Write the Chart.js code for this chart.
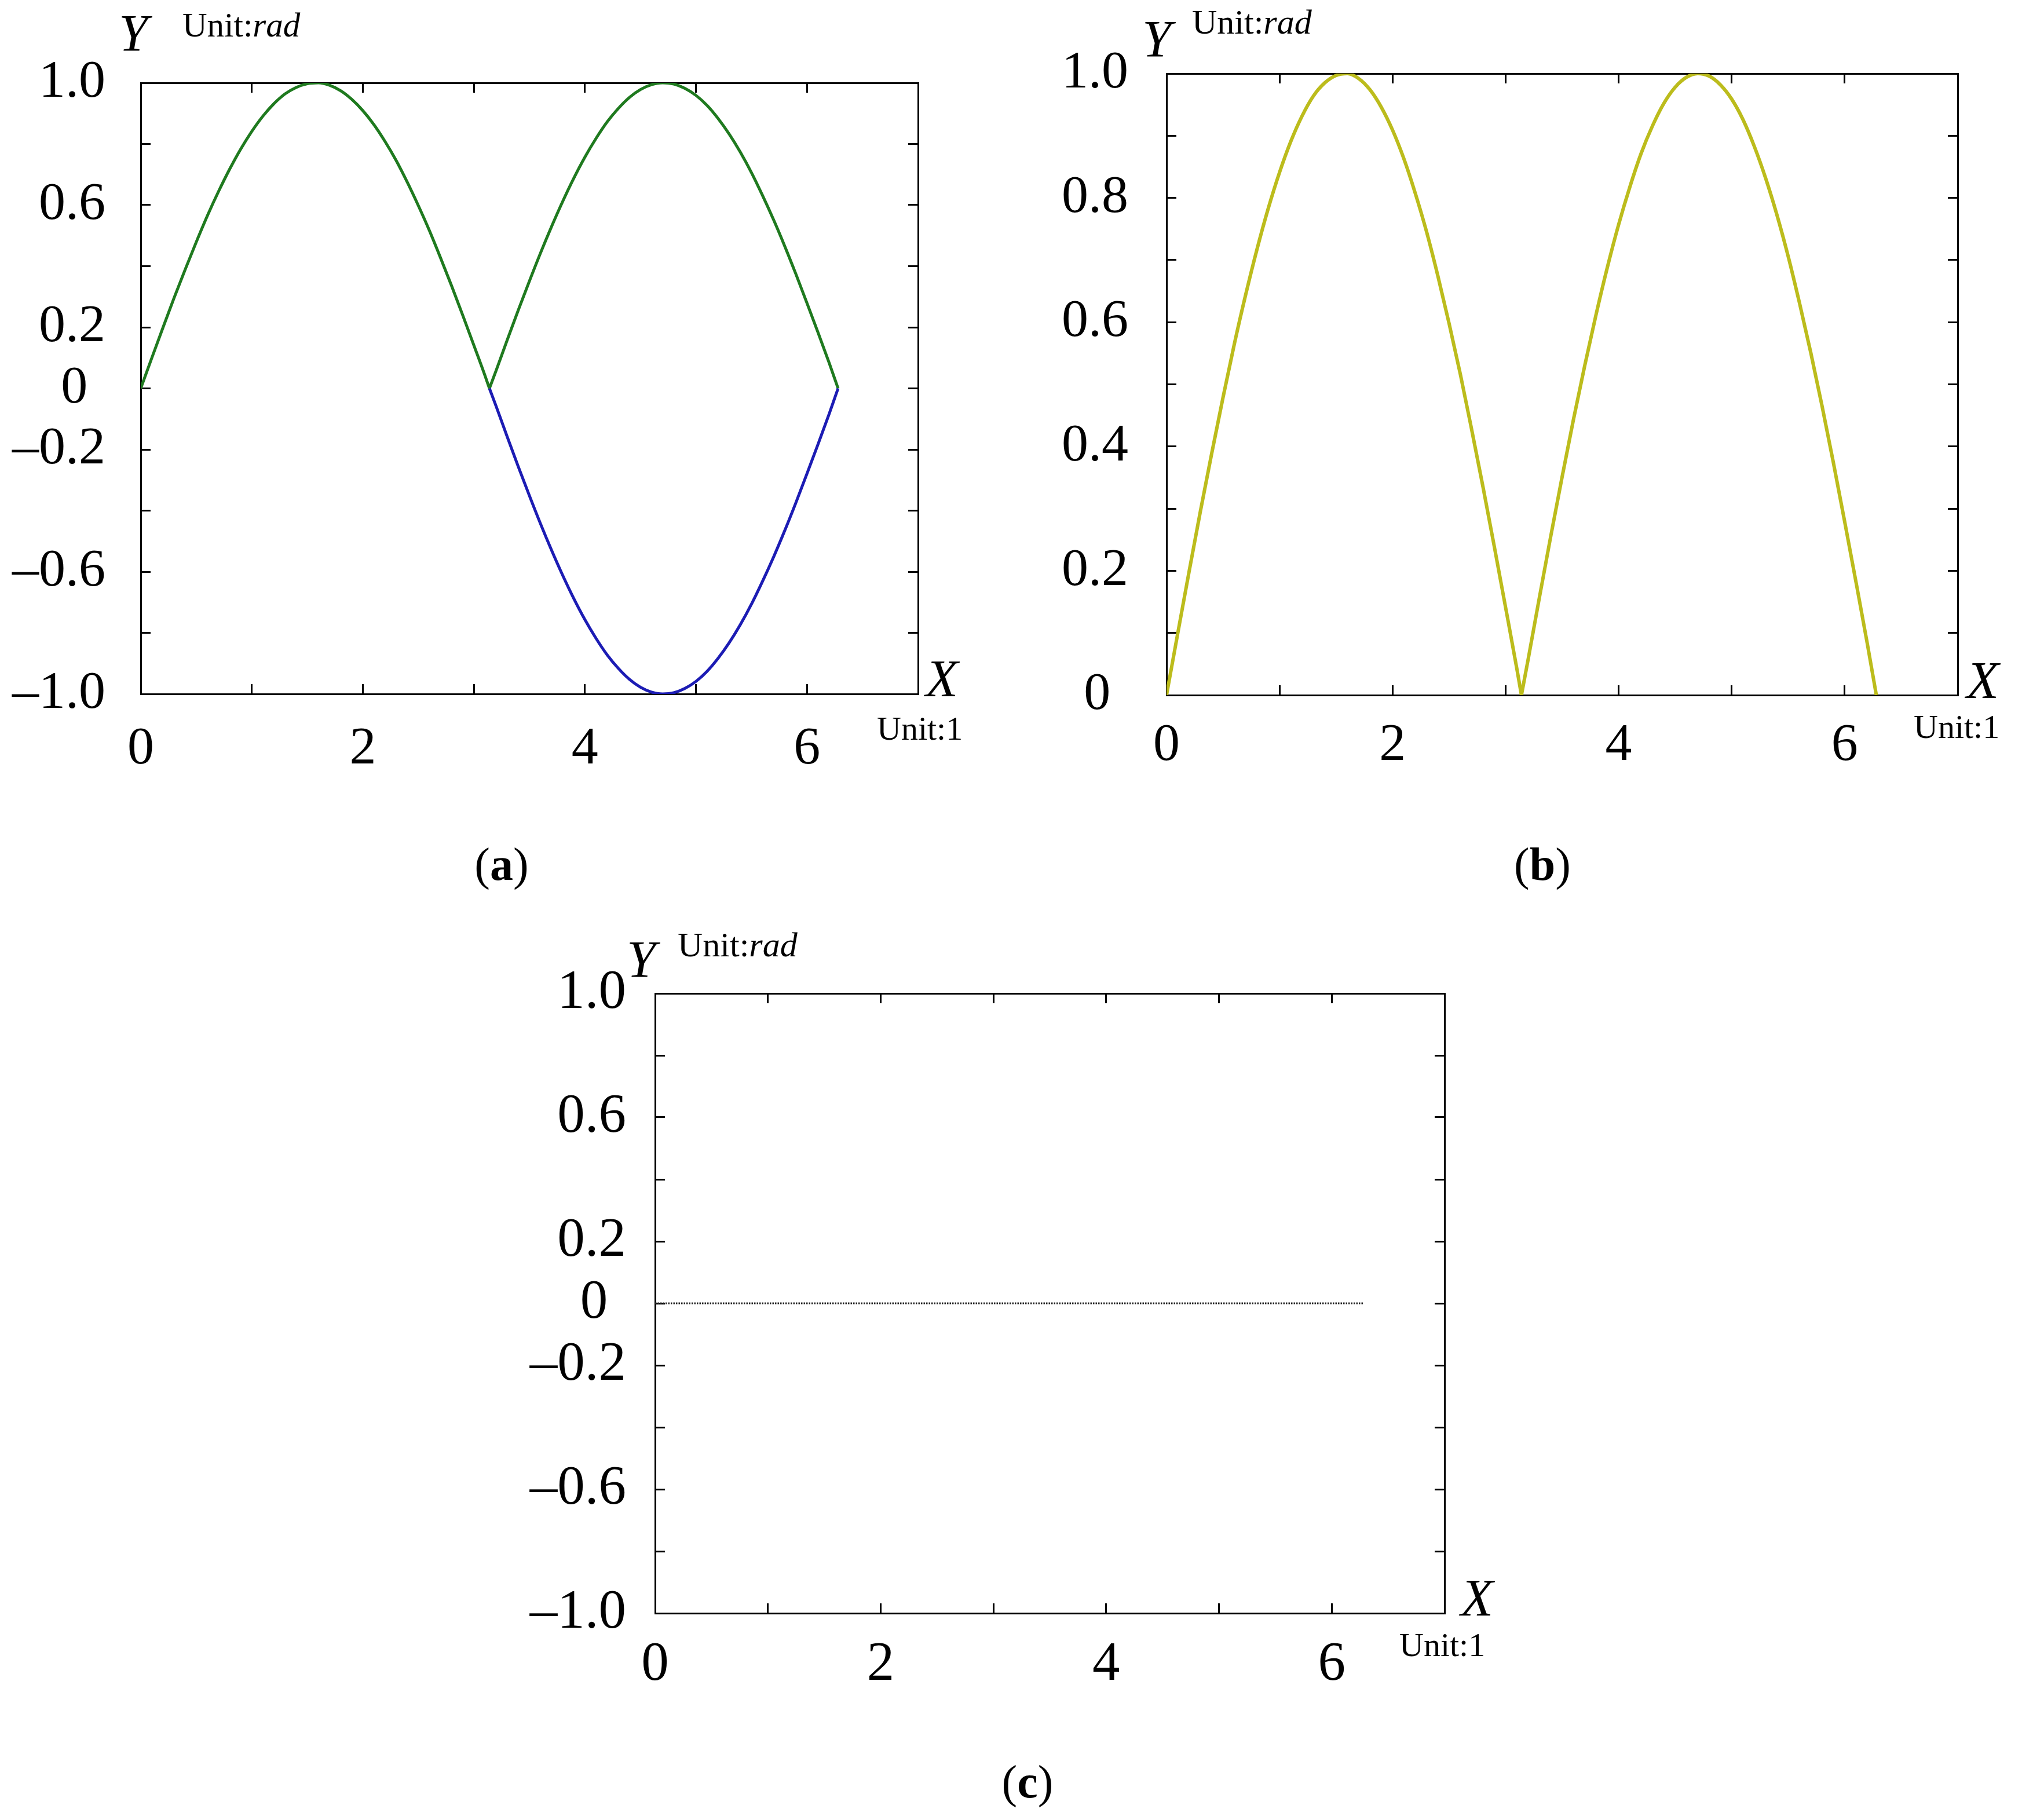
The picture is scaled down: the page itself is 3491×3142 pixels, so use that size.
<!DOCTYPE html>
<html>
<head>
<meta charset="utf-8">
<script src="https://cdn.jsdelivr.net/npm/chart.js@4.4.1/dist/chart.umd.min.js"></script>
<style>
  html, body { margin: 0; padding: 0; background: #ffffff; }
  body { width: 3491px; height: 3142px; position: relative; overflow: hidden;
         font-family: "Liberation Serif", "DejaVu Serif", serif; color: #000; }
  .box { position: absolute; }
  .t { position: absolute; line-height: 1; white-space: nowrap; }
  .i { font-style: italic; }
  .cap { position: absolute; line-height: 1; white-space: nowrap; transform: translateX(-50%); font-size: 80px; }
</style>
</head>
<body>
<div class="box" id="boxA" style="left:13px; top:-18px; width:1583px; height:1366px;"><canvas id="chartA"></canvas></div>
<div class="box" id="boxB" style="left:1784px; top:-34px; width:1607px; height:1384px;"><canvas id="chartB"></canvas></div>
<div class="box" id="boxC" style="left:901px; top:1554px; width:1604px; height:1381px;"><canvas id="chartC"></canvas></div>

<!-- (a) axis titles -->
<div class="t i" style="left:205px; top:13px; font-size:90px;">Y</div>
<div class="t" style="left:315px; top:14px; font-size:59px;">Unit:<span class="i">rad</span></div>
<div class="t i" style="left:1598px; top:1125px; font-size:92px;">X</div>
<div class="t" style="left:1514px; top:1229px; font-size:58px;">Unit:1</div>
<div class="cap" style="left:866px; top:1452px;">(<b>a</b>)</div>

<!-- (b) axis titles -->
<div class="t i" style="left:1972px; top:23px; font-size:90px;">Y</div>
<div class="t" style="left:2058px; top:8px; font-size:60px;">Unit:<span class="i">rad</span></div>
<div class="t i" style="left:3395px; top:1128px; font-size:92px;">X</div>
<div class="t" style="left:3304px; top:1226px; font-size:58px;">Unit:1</div>
<div class="cap" style="left:2663px; top:1452px;">(<b>b</b>)</div>

<!-- (c) axis titles -->
<div class="t i" style="left:1082px; top:1612px; font-size:90px;">Y</div>
<div class="t" style="left:1170px; top:1601px; font-size:60px;">Unit:<span class="i">rad</span></div>
<div class="t i" style="left:2522px; top:2712px; font-size:92px;">X</div>
<div class="t" style="left:2416px; top:2811px; font-size:58px;">Unit:1</div>
<div class="cap" style="left:1774px; top:3036px;">(<b>c</b>)</div>

<script>
// ---------------- data ----------------
// (a) green curve, first hump (0 .. pi)
const xGreen1A = [0, 0.1, 0.2, 0.3, 0.4, 0.5, 0.6, 0.7, 0.8, 0.9, 1.0, 1.1, 1.2, 1.3, 1.4, 1.5, 1.6,
                  1.7, 1.8, 1.9, 2.0, 2.1, 2.2, 2.3, 2.4, 2.5, 2.6, 2.7, 2.8, 2.9, 3.0, 3.1, 3.14];
const yGreen1A = [0, 0.100, 0.199, 0.296, 0.389, 0.479, 0.565, 0.644, 0.717, 0.783, 0.841, 0.891, 0.932, 0.964, 0.985, 0.997, 1.000,
                  0.992, 0.974, 0.946, 0.909, 0.863, 0.808, 0.746, 0.675, 0.598, 0.516, 0.427, 0.335, 0.239, 0.141, 0.042, 0.000];
// (a) green curve, second hump (pi .. 2pi)
const xGreen2A = [3.14, 3.2, 3.3, 3.4, 3.5, 3.6, 3.7, 3.8, 3.9, 4.0, 4.1, 4.2, 4.3, 4.4, 4.5, 4.6, 4.7,
                  4.8, 4.9, 5.0, 5.1, 5.2, 5.3, 5.4, 5.5, 5.6, 5.7, 5.8, 5.9, 6.0, 6.1, 6.2, 6.28];
const yGreen2A = [0.000, 0.058, 0.158, 0.256, 0.351, 0.443, 0.530, 0.612, 0.688, 0.757, 0.818, 0.872, 0.916, 0.952, 0.978, 0.994, 1.000,
                  0.996, 0.982, 0.959, 0.926, 0.883, 0.832, 0.773, 0.706, 0.631, 0.551, 0.465, 0.374, 0.279, 0.182, 0.083, 0.000];
// (a) blue curve (negative half, pi .. 2pi)
const xBlueA = [3.14, 3.2, 3.3, 3.4, 3.5, 3.6, 3.7, 3.8, 3.9, 4.0, 4.1, 4.2, 4.3, 4.4, 4.5, 4.6, 4.7,
                4.8, 4.9, 5.0, 5.1, 5.2, 5.3, 5.4, 5.5, 5.6, 5.7, 5.8, 5.9, 6.0, 6.1, 6.2, 6.28];
const yBlueA = [0.000, -0.058, -0.158, -0.256, -0.351, -0.443, -0.530, -0.612, -0.688, -0.757, -0.818, -0.872, -0.916, -0.952, -0.978, -0.994, -1.000,
                -0.996, -0.982, -0.959, -0.926, -0.883, -0.832, -0.773, -0.706, -0.631, -0.551, -0.465, -0.374, -0.279, -0.182, -0.083, 0.000];
// (b) yellow curve, first and second hump
const xB1 = [0, 0.1, 0.2, 0.3, 0.4, 0.5, 0.6, 0.7, 0.8, 0.9, 1.0, 1.1, 1.2, 1.3, 1.4, 1.5, 1.6,
             1.7, 1.8, 1.9, 2.0, 2.1, 2.2, 2.3, 2.4, 2.5, 2.6, 2.7, 2.8, 2.9, 3.0, 3.1, 3.14];
const yB1 = [0, 0.100, 0.199, 0.296, 0.389, 0.479, 0.565, 0.644, 0.717, 0.783, 0.841, 0.891, 0.932, 0.964, 0.985, 0.997, 1.000,
             0.992, 0.974, 0.946, 0.909, 0.863, 0.808, 0.746, 0.675, 0.598, 0.516, 0.427, 0.335, 0.239, 0.141, 0.042, 0.000];
const xB2 = [3.14, 3.2, 3.3, 3.4, 3.5, 3.6, 3.7, 3.8, 3.9, 4.0, 4.1, 4.2, 4.3, 4.4, 4.5, 4.6, 4.7,
             4.8, 4.9, 5.0, 5.1, 5.2, 5.3, 5.4, 5.5, 5.6, 5.7, 5.8, 5.9, 6.0, 6.1, 6.2, 6.28];
const yB2 = [0.000, 0.058, 0.158, 0.256, 0.351, 0.443, 0.530, 0.612, 0.688, 0.757, 0.818, 0.872, 0.916, 0.952, 0.978, 0.994, 1.000,
             0.996, 0.982, 0.959, 0.926, 0.883, 0.832, 0.773, 0.706, 0.631, 0.551, 0.465, 0.374, 0.279, 0.182, 0.083, 0.000];
// (c) flat dotted line
const xC = [0, 6.28];
const yC = [0, 0];

// ticks
const xTickValues = [0, 1, 2, 3, 4, 5, 6];
const xTickLabels = ['0', '', '2', '', '4', '', '6'];
const yTickValuesAC = [-1.0, -0.8, -0.6, -0.4, -0.2, 0, 0.2, 0.4, 0.6, 0.8, 1.0];
const yTickLabelsAC = ['\u20131.0', '', '\u20130.6', '', '\u20130.2', '0\u2004', '0.2', '', '0.6', '', '1.0'];
const yTickValuesB = [0, 0.1, 0.2, 0.3, 0.4, 0.5, 0.6, 0.7, 0.8, 0.9, 1.0];
const yTickLabelsB = ['0\u2004', '', '0.2', '', '0.4', '', '0.6', '', '0.8', '', '1.0'];

// ---------------- helpers ----------------
const FONT = '"Liberation Serif", "DejaVu Serif", serif';
const pts = (xs, ys) => xs.map((x, i) => ({x: x, y: ys[i]}));

function setTicks(values) {
  return function (axis) { axis.ticks = values.map(v => ({value: v})); };
}
function labelFrom(values, labels) {
  return function (value) {
    const i = values.findIndex(v => Math.abs(v - value) < 1e-9);
    return i >= 0 ? labels[i] : '';
  };
}
const gridInward = {
  display: true, drawOnChartArea: false, drawTicks: true,
  tickLength: -17, tickWidth: 3, tickColor: '#000'
};
const borderBlack = {display: true, color: '#000', width: 3};

function curve(xs, ys, color, width) {
  return {data: pts(xs, ys), borderColor: color, borderWidth: width, fill: false,
          cubicInterpolationMode: 'monotone', xAxisID: 'x', yAxisID: 'y'};
}

function makeChart(id, datasets, yMin, yMax, yVals, yLabels, fontSize, xPad, yPad) {
  const fitW = (w) => (s) => { s.width = w; };
  const fitH = (h) => (s) => { s.height = h; };
  return new Chart(document.getElementById(id), {
    type: 'line',
    data: {datasets: datasets},
    options: {
      responsive: true, maintainAspectRatio: false, animation: false,
      devicePixelRatio: 1,
      layout: {autoPadding: false, padding: {top: 160, right: 10, left: 0, bottom: 0}},
      plugins: {legend: {display: false}, tooltip: {enabled: false}},
      elements: {point: {radius: 0}},
      scales: {
        x: {
          type: 'linear', position: 'bottom', min: 0, max: 7,
          afterBuildTicks: setTicks(xTickValues), afterFit: fitH(150),
          grid: gridInward, border: borderBlack,
          ticks: {callback: labelFrom(xTickValues, xTickLabels), color: '#000', padding: xPad,
                  maxRotation: 0, autoSkip: false, font: {family: FONT, size: fontSize}}
        },
        x2: {
          type: 'linear', position: 'top', min: 0, max: 7,
          afterBuildTicks: setTicks(xTickValues), afterFit: fitH(1),
          grid: gridInward, border: borderBlack,
          ticks: {display: false}
        },
        y: {
          type: 'linear', position: 'left', min: yMin, max: yMax,
          afterBuildTicks: setTicks(yVals), afterFit: fitW(230),
          grid: gridInward, border: borderBlack,
          ticks: {callback: labelFrom(yVals, yLabels), color: '#000', padding: yPad,
                  autoSkip: false, font: {family: FONT, size: fontSize}}
        },
        y2: {
          type: 'linear', position: 'right', min: yMin, max: yMax,
          afterBuildTicks: setTicks(yVals), afterFit: fitW(1),
          grid: gridInward, border: borderBlack,
          ticks: {display: false}
        }
      }
    }
  });
}

makeChart('chartA', [
  curve(xBlueA, yBlueA, '#1c1cb4', 5),
  curve(xGreen1A, yGreen1A, '#1f7a1f', 5),
  curve(xGreen2A, yGreen2A, '#1f7a1f', 5)
], -1, 1, yTickValuesAC, yTickLabelsAC, 92, 58, 78);

makeChart('chartB', [
  curve(xB1, yB1, '#bcbc1c', 6),
  curve(xB2, yB2, '#bcbc1c', 6)
], 0, 1, yTickValuesB, yTickLabelsB, 92, 50, 83);

makeChart('chartC', [
  {data: pts(xC, yC), borderColor: '#222222', borderWidth: 3, borderDash: [2.5, 2], fill: false,
   xAxisID: 'x', yAxisID: 'y'}
], -1, 1, yTickValuesAC, yTickLabelsAC, 95, 50, 67);
</script>
</body>
</html>
